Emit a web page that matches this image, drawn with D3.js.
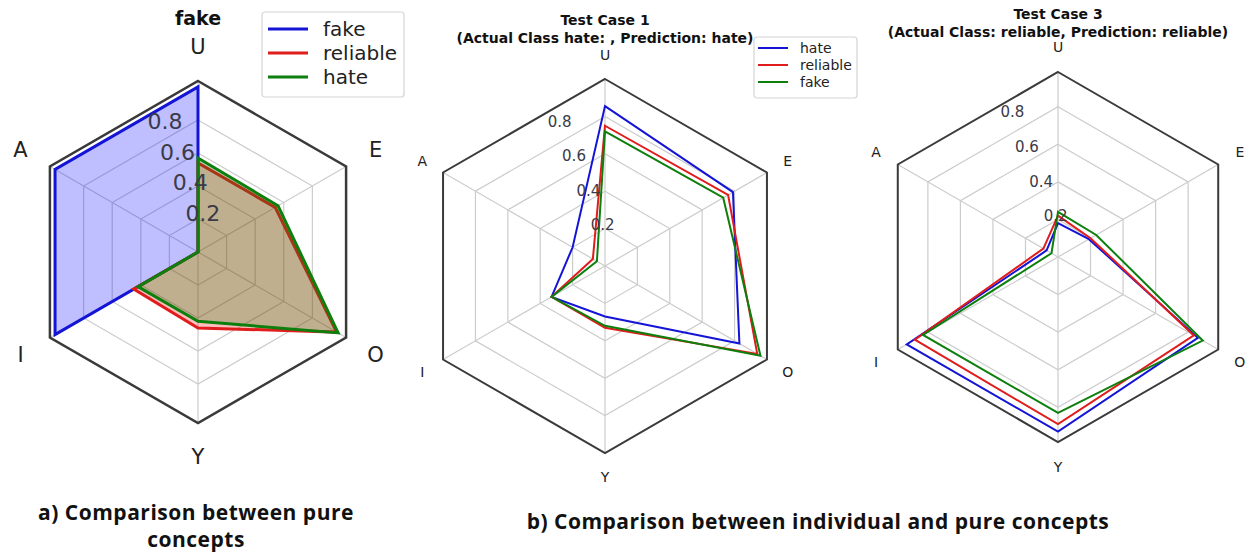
<!DOCTYPE html>
<html lang="en">
<head>
<meta charset="UTF-8">
<script src="https://cdn.jsdelivr.net/npm/d3@7"></script>
<title>Radar comparison</title>
<style>
  body { margin: 0; background: #fff; }
  svg text { font-family: "DejaVu Sans", sans-serif; }
  .caption { font-family: "Open Sans", sans-serif; font-weight: 700; font-size: 21px; letter-spacing: 0.5px; fill: #111; }
</style>
</head>
<body>
<svg id="chart" width="1255" height="555"></svg>
<script>
// axis order, clockwise from the top
var axesNames = ["U", "E", "O", "Y", "I", "A"];
var ringTicks = [0.2, 0.4, 0.6, 0.8];

// a) pure concepts
var pureNames = ["fake", "reliable", "hate"];
var pureFake = [1.0, 0.0, 0.0, 0.0, 1.0, 1.0];
var pureReliable = [0.54, 0.54, 0.97, 0.46, 0.45, 0.0];
var pureHate = [0.57, 0.56, 0.98, 0.42, 0.42, 0.0];

// b) test case 1
var case1Names = ["hate", "reliable", "fake"];
var case1Hate = [0.855, 0.79, 0.83, 0.27, 0.33, 0.20];
var case1Reliable = [0.75, 0.76, 0.94, 0.33, 0.33, 0.075];
var case1Fake = [0.72, 0.73, 0.96, 0.32, 0.33, 0.05];

// b) test case 3
var case3Names = ["hate", "reliable", "fake"];
var case3Hate = [0.18, 0.19, 0.86, 0.93, 0.93, 0.07];
var case3Reliable = [0.22, 0.20, 0.835, 0.89, 0.88, 0.09];
var case3Fake = [0.24, 0.235, 0.89, 0.83, 0.83, 0.04];

var colors = ["#1414d6", "#e01c1c", "#0c7f0c"];
var svg = d3.select("#chart");

function radar(opt) {
    var g = svg.append("g").attr("transform", "translate(" + opt.cx + "," + opt.cy + ")");
    var r = d3.scaleLinear().domain([0, opt.max]).range([0, opt.radius]);
    var angle = d3.scalePoint().domain(axesNames).range([0, 2 * Math.PI * 5 / 6]);
    var line = d3.lineRadial()
        .angle(function(d, i) { return angle(axesNames[i]); })
        .radius(function(d) { return r(d); })
        .curve(d3.curveLinearClosed);
    var pt = function(a, rad) { return [rad * Math.sin(a), -rad * Math.cos(a)]; };

    // grid rings
    g.selectAll(".ring").data(ringTicks).join("path")
        .attr("d", function(t) { return line(axesNames.map(function() { return t; })); })
        .attr("fill", "none").attr("stroke", "#cccccc").attr("stroke-width", 1.2);
    // spokes
    g.selectAll(".spoke").data(axesNames).join("line")
        .attr("x1", 0).attr("y1", 0)
        .attr("x2", function(d) { return pt(angle(d), opt.radius)[0]; })
        .attr("y2", function(d) { return pt(angle(d), opt.radius)[1]; })
        .attr("stroke", "#cccccc").attr("stroke-width", 1.2);

    // series
    opt.series.forEach(function(s, i) {
        if (opt.fill) {
            g.append("path").attr("d", line(s))
                .attr("fill", ["#0000ff", "#ff0000", "#008000"][i]).attr("fill-opacity", 0.25)
                .attr("stroke", "none");
        }
        g.append("path").attr("d", line(s))
            .attr("fill", "none").attr("stroke", colors[i])
            .attr("stroke-width", opt.lw).attr("stroke-linejoin", "miter");
    });

    // frame
    g.append("path").attr("d", line(axesNames.map(function() { return opt.max; })))
        .attr("fill", "none").attr("stroke", "#3a3a3a").attr("stroke-width", opt.frameW);

    // r tick labels at -22.5 deg
    g.selectAll(".rtick").data(ringTicks).join("text")
        .attr("x", function(t) { return pt(-Math.PI / 8, r(t))[0]; })
        .attr("y", function(t) { return pt(-Math.PI / 8, r(t))[1] - 1; })
        .attr("font-size", opt.tickSize).attr("fill", "#3a3a48")
        .text(function(t) { return t.toFixed(1); });

    // axis labels
    g.selectAll(".alab").data(axesNames).join("text")
        .attr("x", function(d) { return pt(angle(d), opt.labelR)[0]; })
        .attr("y", function(d) { return pt(angle(d), opt.labelR)[1]; })
        .attr("text-anchor", "middle").attr("dominant-baseline", "central")
        .attr("font-size", opt.labelSize).attr("fill", "#222")
        .text(function(d) { return d; });

    // title
    opt.title.forEach(function(t, i) {
        svg.append("text").attr("x", opt.cx).attr("y", opt.titleY + i * opt.titleStep)
            .attr("text-anchor", "middle").attr("font-weight", "bold")
            .attr("font-size", opt.titleSize).attr("fill", "#111").text(t);
    });

    // legend
    if (opt.legend) {
        var L = opt.legend;
        var lg = svg.append("g").attr("transform", "translate(" + L.x + "," + L.y + ")");
        lg.append("rect").attr("width", L.w).attr("height", L.h).attr("rx", 3)
            .attr("fill", "#fff").attr("stroke", "#d4d4d4").attr("stroke-width", 1.2);
        opt.names.forEach(function(n, i) {
            var y = L.pad + i * L.step;
            lg.append("line").attr("x1", L.lx).attr("x2", L.lx + L.len).attr("y1", y).attr("y2", y)
                .attr("stroke", colors[i]).attr("stroke-width", L.lw);
            lg.append("text").attr("x", L.tx).attr("y", y).attr("dominant-baseline", "central")
                .attr("font-size", L.size).attr("fill", "#222").text(n);
        });
    }
}

radar({
    cx: 198, cy: 252, radius: 171, max: 1.036, labelR: 205,
    series: [pureFake, pureReliable, pureHate], names: pureNames, fill: true,
    lw: 3, frameW: 2.5, tickSize: 22, labelSize: 21,
    title: ["fake"], titleY: 25, titleStep: 0, titleSize: 19,
    legend: { x: 262, y: 12, w: 142, h: 85, pad: 17, step: 24, lx: 6, len: 40, lw: 3, tx: 61, size: 20 }
});

radar({
    cx: 605, cy: 266, radius: 187, max: 1.0, labelR: 211,
    series: [case1Hate, case1Reliable, case1Fake], names: case1Names, fill: false,
    lw: 2, frameW: 2, tickSize: 15, labelSize: 14,
    title: ["Test Case 1", "(Actual Class hate: , Prediction: hate)"], titleY: 25, titleStep: 18, titleSize: 14,
    legend: { x: 754, y: 37, w: 103, h: 61, pad: 11, step: 17, lx: 4, len: 30, lw: 2, tx: 46, size: 14 }
});

radar({
    cx: 1058, cy: 257, radius: 185, max: 0.985, labelR: 210,
    series: [case3Hate, case3Reliable, case3Fake], names: case3Names, fill: false,
    lw: 2, frameW: 2, tickSize: 15, labelSize: 14,
    title: ["Test Case 3", "(Actual Class: reliable, Prediction: reliable)"], titleY: 19, titleStep: 18, titleSize: 14
});

// captions
svg.append("text").attr("class", "caption").attr("x", 196).attr("y", 520).attr("text-anchor", "middle")
    .text("a) Comparison between pure");
svg.append("text").attr("class", "caption").attr("x", 196).attr("y", 547).attr("text-anchor", "middle")
    .text("concepts");
svg.append("text").attr("class", "caption").attr("x", 818).attr("y", 529).attr("text-anchor", "middle")
    .text("b) Comparison between individual and pure concepts");
</script>
</body>
</html>
